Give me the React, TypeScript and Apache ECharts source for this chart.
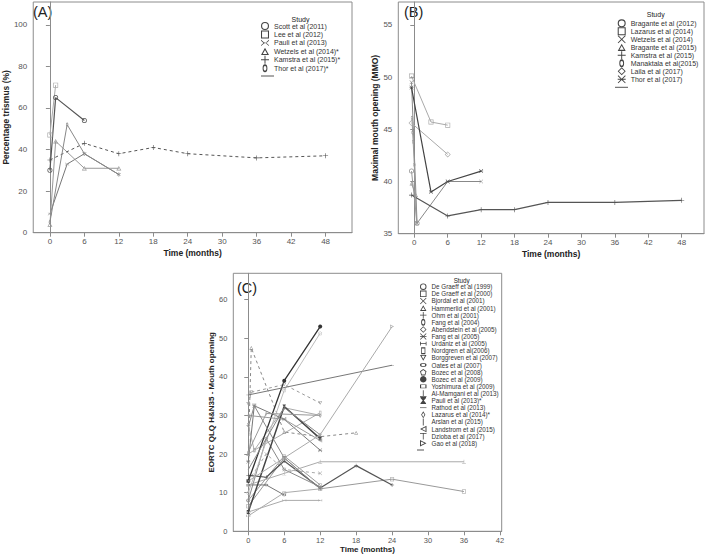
import { useEffect, useRef } from 'react';
import * as echarts from 'echarts';

// ---------- tick values ----------
const monthTicksAB = [0, 6, 12, 18, 24, 30, 36, 42, 48];
const monthTicksC = [0, 6, 12, 18, 24, 30, 36, 42];
const trismusTicks = [0, 20, 40, 60, 80, 100];
const mmoTicks = [35, 40, 45, 50, 55];
const eortcTicks = [0, 10, 20, 30, 40, 50, 60];

// ---------- Panel A: percentage trismus [month, %] ----------
const scott2011 = [[0, 30], [1, 65], [6, 54]];
const lee2012 = [[0, 47], [1, 71]];
const pauli2013A = [[0, 9], [3, 33], [6, 38], [12, 28]];
const wetzels2014A = [[0, 4], [1, 44], [6, 31], [12, 31]];
const kamstra2015A = [[0, 35], [6, 43], [12, 38], [18, 41], [24, 38], [36, 36], [48, 37]];
const thor2017A = [[0, 5], [3, 52], [6, 38], [12, 28]];

// ---------- Panel B: maximal mouth opening [month, mm] ----------
const bragante2012 = [[-0.5, 41], [0.5, 36]];
const lazarus2014B = [[-0.5, 50.1], [3, 45.7], [6, 45.4]];
const wetzels2014B = [[-0.5, 49.5], [0.5, 36], [6, 40], [12, 40]];
const bragante2015 = [[-0.5, 39.8], [0.3, 38.7]];
const kamstra2015B = [[-0.5, 38.7], [6, 36.7], [12, 37.3], [18, 37.3], [24, 38], [36, 38], [48, 38.2]];
const manaktala2015 = [[-0.4, 46.1], [-0.3, 44.7], [-0.2, 43.8], [0, 41.6], [0.4, 36]];
const laila2017 = [[-0.5, 45.6], [6, 42.6]];
const thor2017B = [[-0.5, 49], [3, 39], [6, 40], [12, 41]];

// ---------- Panel C: EORTC QLQ H&N35 mouth opening [month, score] ----------
const deGraeff1999 = [[0, 8], [6, 19.5], [12, 12]];
const deGraeff2000 = [[0, 6.5], [6, 19], [12, 11], [24, 13.5], [36, 10.3]];
const bjordal2001 = [[0, 13], [3, 20], [6, 16], [12, 15]];
const hammerlid2001 = [[0, 20], [0.5, 47.5], [6, 25.7], [12, 24.5], [18, 25.5]];
const ohm2001 = [[0, 14.5], [3, 14], [6, 18.2], [12, 11.2], [18, 17], [24, 12]];
const fang2004 = [[0, 20], [1, 21], [6, 32], [12, 30]];
const abendstein2005 = [[0, 8], [3, 24], [6, 16], [12, 11.5]];
const fang2005 = [[0, 18], [1, 32.5], [6, 29], [12, 21]];
const urdaniz2005 = [[0, 5], [6, 8], [12, 8]];
const nordgren2006 = [[0, 27.5], [1, 21], [12, 30.7]];
const borggreven2007 = [[0, 33], [0.5, 36], [6, 38], [12, 33.2]];
const oates2007 = [[0, 12], [3, 12], [6, 9.4]];
const bozec2008 = [[0, 10], [6, 36.5], [12, 51.3]];
const bozec2009 = [[0, 13], [6, 39], [12, 53]];
const yoshimura2009 = [[0, 4], [6, 10], [12, 11]];
const alMamgani2013 = [[0, 12], [6, 15], [12, 18], [36, 18]];
const pauli2013C = [[0, 5], [6, 32.3], [12, 24]];
const rathod2013 = [[0, 35.3], [24, 43]];
const lazarus2014C = [[0, 20.5], [3, 30.5], [12, 30]];
const arslan2015 = [[0, 16], [6, 32], [12, 25]];
const landstrom2015 = [[0, 30], [6, 29], [12, 23.5]];
const dzioba2017 = [[0, 27], [1, 32.5], [6, 19], [12, 11]];
const gao2018 = [[0, 13], [12, 25], [24, 53]];

// ---------- symbol shapes ----------
const ring = (pts: number[][], k: number): string => {
  const cx = pts.reduce((s, p) => s + p[0], 0) / pts.length;
  const cy = pts.reduce((s, p) => s + p[1], 0) / pts.length;
  const outer = 'M' + pts.map((p) => `${p[0]},${p[1]}`).join('L') + 'Z';
  const inner =
    'M' +
    pts
      .slice()
      .reverse()
      .map((p) => `${(cx + (p[0] - cx) * k).toFixed(2)},${(cy + (p[1] - cy) * k).toFixed(2)}`)
      .join('L') +
    'Z';
  return 'path://' + outer + ' ' + inner;
};
const ellRing = (rx: number, ry: number, k: number): string => {
  const irx = rx * k;
  const iry = ry * k;
  return `path://M${rx},0A${rx},${ry},0,1,1,${rx},${2 * ry}A${rx},${ry},0,1,1,${rx},0Z M${rx},${ry - iry}A${irx},${iry},0,1,0,${rx},${ry + iry}A${irx},${iry},0,1,0,${rx},${ry - iry}Z`;
};
const XM = 'M0,0.8L0.8,0L5,4.2L9.2,0L10,0.8L5.8,5L10,9.2L9.2,10L5,5.8L0.8,10L0,9.2L4.2,5Z';
const SYM: Record<string, string> = {
  circle: ellRing(5, 5, 0.72),
  square: ring([[0, 0], [10, 0], [10, 10], [0, 10]], 0.74),
  triUp: ring([[5, 0], [10, 9], [0, 9]], 0.55),
  triDown: ring([[0, 0], [10, 0], [5, 9]], 0.55),
  triLeft: ring([[0, 4.5], [9, 0], [9, 9]], 0.55),
  triRight: ring([[9, 4.5], [0, 9], [0, 0]], 0.55),
  diamond: ring([[5, 0], [10, 5], [5, 10], [0, 5]], 0.7),
  tallDiamond: ring([[3, 0], [6, 5], [3, 10], [0, 5]], 0.6),
  tallEll: ellRing(3, 5, 0.6),
  wideEll: ellRing(5, 3, 0.6),
  tallRect: ring([[0, 0], [6, 0], [6, 10], [0, 10]], 0.65),
  wideRect: ring([[0, 0], [10, 0], [10, 6], [0, 6]], 0.65),
  pentagon: ring([[5, 0], [10, 3.8], [8.1, 10], [1.9, 10], [0, 3.8]], 0.7),
  plus: 'path://M4.4,0H5.6V4.4H10V5.6H5.6V10H4.4V5.6H0V4.4H4.4Z',
  xmark: 'path://' + XM,
  bowtie: 'path://M0,1L4.6,5L0,9V7.8L3.2,5L0,2.2Z M10,1L5.4,5L10,9V7.8L6.8,5L10,2.2Z M3,4.5H7V5.5H3Z',
  asterisk: 'path://M0,4.4H10V5.6H0Z ' + XM,
  ibeam: 'path://M0,2H1.2V4.4H8.8V2H10V8H8.8V5.6H1.2V8H0Z',
  hourglass: 'path://M1,0H9V1.2L5.8,5L9,8.8V10H1V8.8L4.2,5L1,1.2Z',
  vbar: 'path://M4.4,0H5.6V10H4.4Z',
  tee: 'path://M0,0H10V1.2H5.6V10H4.4V1.2H0Z',
  upTee: 'path://M4.4,0H5.6V8.8H10V10H0V8.8H4.4Z',
  dash: 'path://M0,4.5H10V5.5H0Z',
  dot: 'circle',
};

type Study = { name: string; data: number[][]; sym: string; color: string; dash?: boolean; lw?: number; size?: number };

const studiesA: Study[] = [
  { name: 'Scott et al (2011)', data: scott2011, sym: 'circle', color: '#555', lw: 1.2 },
  { name: 'Lee et al (2012)', data: lee2012, sym: 'square', color: '#aaa' },
  { name: 'Pauli et al (2013)', data: pauli2013A, sym: 'bowtie', color: '#777', size: 4 },
  { name: 'Wetzels et al (2014)*', data: wetzels2014A, sym: 'triUp', color: '#999' },
  { name: 'Kamstra et al (2015)*', data: kamstra2015A, sym: 'plus', color: '#555', dash: true },
  { name: 'Thor et al (2017)*', data: thor2017A, sym: 'tallEll', color: '#888', size: 4 },
];
const studiesB: Study[] = [
  { name: 'Bragante et al (2012)', data: bragante2012, sym: 'circle', color: '#999' },
  { name: 'Lazarus et al (2014)', data: lazarus2014B, sym: 'square', color: '#aaa' },
  { name: 'Wetzels et al (2014)', data: wetzels2014B, sym: 'xmark', color: '#888', size: 4 },
  { name: 'Bragante et al (2015)', data: bragante2015, sym: 'triUp', color: '#999', size: 4 },
  { name: 'Kamstra et al (2015)', data: kamstra2015B, sym: 'plus', color: '#555', lw: 1.2 },
  { name: 'Manaktala et al(2015)', data: manaktala2015, sym: 'tallEll', color: '#999', size: 4 },
  { name: 'Laila et al (2017)', data: laila2017, sym: 'diamond', color: '#aaa', size: 6 },
  { name: 'Thor et al (2017)', data: thor2017B, sym: 'asterisk', color: '#444', lw: 1.2, size: 4 },
];
const studiesC: Study[] = [
  { name: 'De Graeff et al (1999)', data: deGraeff1999, sym: 'circle', color: '#999' },
  { name: 'De Graeff et al (2000)', data: deGraeff2000, sym: 'square', color: '#999' },
  { name: 'Bjordal et al (2001)', data: bjordal2001, sym: 'xmark', color: '#aaa', dash: true },
  { name: 'Hammerlid et al (2001)', data: hammerlid2001, sym: 'triUp', color: '#888', dash: true },
  { name: 'Ohm et al (2001)', data: ohm2001, sym: 'plus', color: '#555', lw: 1.2 },
  { name: 'Fang et al (2004)', data: fang2004, sym: 'tallEll', color: '#aaa' },
  { name: 'Abendstein et al (2005)', data: abendstein2005, sym: 'diamond', color: '#888' },
  { name: 'Fang et al (2005)', data: fang2005, sym: 'asterisk', color: '#777' },
  { name: 'Urdaniz et al (2005)', data: urdaniz2005, sym: 'ibeam', color: '#aaa' },
  { name: 'Nordgren et al(2006)', data: nordgren2006, sym: 'tallRect', color: '#aaa' },
  { name: 'Borggreven et al (2007)', data: borggreven2007, sym: 'triDown', color: '#999', dash: true },
  { name: 'Oates et al (2007)', data: oates2007, sym: 'wideEll', color: '#777' },
  { name: 'Bozec et al (2008)', data: bozec2008, sym: 'pentagon', color: '#bbb' },
  { name: 'Bozec et al (2009)', data: bozec2009, sym: 'dot', color: '#333', lw: 1.3 },
  { name: 'Yoshimura et al (2009)', data: yoshimura2009, sym: 'wideRect', color: '#aaa' },
  { name: 'Al-Mamgani et al (2013)', data: alMamgani2013, sym: 'upTee', color: '#aaa' },
  { name: 'Pauli et al (2013)*', data: pauli2013C, sym: 'hourglass', color: '#444', lw: 1.5 },
  { name: 'Rathod et al (2013)', data: rathod2013, sym: 'dash', color: '#777' },
  { name: 'Lazarus et al (2014)*', data: lazarus2014C, sym: 'tallDiamond', color: '#999' },
  { name: 'Arslan et al (2015)', data: arslan2015, sym: 'vbar', color: '#888' },
  { name: 'Landstrom et al (2015)', data: landstrom2015, sym: 'triLeft', color: '#999' },
  { name: 'Dzioba et al (2017)', data: dzioba2017, sym: 'tee', color: '#888' },
  { name: 'Gao et al (2018)', data: gao2018, sym: 'triRight', color: '#aaa' },
];

const FONT = '"Liberation Sans", Arial, sans-serif';
const FRAME = '#8c8c8c';

const mkSeries = (list: Study[], idx: number, defSize: number) =>
  list.map((s) => ({
    type: 'line',
    name: s.name,
    data: s.data,
    xAxisIndex: idx,
    yAxisIndex: idx,
    symbol: SYM[s.sym],
    symbolSize: s.size ?? defSize,
    symbolKeepAspect: true,
    showSymbol: true,
    lineStyle: { color: s.color, width: s.lw ?? 1, type: s.dash ? [3, 3] : 'solid' },
    itemStyle: { color: s.color },
    emphasis: { disabled: true },
    silent: true,
  }));

const mkLegend = (list: Study[], left: number, top: number, iw: number, ih: number, gap: number, fs: number) => ({
  orient: 'vertical',
  left,
  top,
  padding: 0,
  itemWidth: iw,
  itemHeight: ih,
  itemGap: gap,
  selectedMode: false,
  textStyle: { fontSize: fs, lineHeight: ih, color: '#333', fontFamily: FONT },
  data: list.map((s) => ({ name: s.name, icon: SYM[s.sym], itemStyle: { color: '#444' } })),
});

const xAxisCfg = (gi: number, min: number, max: number, ticks: number[], fs: number, nameFs: number, nameGap: number) => ({
  gridIndex: gi,
  type: 'value',
  min,
  max,
  name: 'Time (months)',
  nameLocation: 'middle',
  nameGap,
  nameTextStyle: { fontWeight: 'bold', fontSize: nameFs, color: '#222', fontFamily: FONT },
  axisLine: { show: true, lineStyle: { color: FRAME } },
  axisTick: { show: true, length: 4, customValues: ticks, lineStyle: { color: FRAME } },
  axisLabel: { customValues: ticks, color: '#555', fontSize: fs, margin: 5, fontFamily: FONT },
  splitLine: { show: false },
});
const yAxisCfg = (gi: number, min: number, max: number, ticks: number[], name: string, fs: number, nameFs: number, nameGap: number) => ({
  gridIndex: gi,
  type: 'value',
  min,
  max,
  name,
  nameLocation: 'middle',
  nameGap,
  nameTextStyle: { fontWeight: 'bold', fontSize: nameFs, color: '#222', fontFamily: FONT },
  axisLine: { show: true, lineStyle: { color: FRAME } },
  axisTick: { show: true, length: 4, customValues: ticks, lineStyle: { color: FRAME } },
  axisLabel: { customValues: ticks, color: '#555', fontSize: fs, margin: 6, fontFamily: FONT },
  splitLine: { show: false },
});

export default function App() {
  const ref = useRef<HTMLDivElement>(null);
  useEffect(() => {
    if (!ref.current) return;
    const chart = echarts.init(ref.current, undefined, { renderer: 'svg' });
    const gridStyle = { show: true, borderColor: FRAME, borderWidth: 1, backgroundColor: 'transparent' };
    const txt = (x: number, y: number, text: string, fs: number, align: string) => ({
      type: 'text',
      x,
      y,
      silent: true,
      style: { text, fontSize: fs, fill: '#222', fontFamily: FONT, align, verticalAlign: 'middle' },
    });
    const ln = (x1: number, x2: number, y: number) => ({
      type: 'line',
      silent: true,
      shape: { x1, y1: y, x2, y2: y },
      style: { stroke: '#555', lineWidth: 1 },
    });
    chart.setOption({
      animation: false,
      textStyle: { fontFamily: FONT },
      grid: [
        { left: 31, top: 2, width: 321, height: 230.7, ...gridStyle },
        { left: 398.3, top: 2, width: 305.7, height: 231.7, ...gridStyle },
        { left: 233.3, top: 273.3, width: 268.4, height: 258, ...gridStyle },
      ],
      xAxis: [
        xAxisCfg(0, -2.9, 52.6, monthTicksAB, 8, 8.5, 16),
        xAxisCfg(1, -2.87, 52.0, monthTicksAB, 8, 8.5, 16),
        xAxisCfg(2, -2.5, 42.3, monthTicksC, 7.5, 8, 12),
      ],
      yAxis: [
        yAxisCfg(0, 0, 111, trismusTicks, 'Percentage trismus (%)', 8, 8.5, 20),
        yAxisCfg(1, 35, 57.2, mmoTicks, 'Maximal mouth opening (MMO)', 8, 8.5, 18),
        yAxisCfg(2, 0, 66.8, eortcTicks, 'EORTC QLQ H&N35 - Mouth opening', 7.5, 8, 12),
      ],
      legend: [
        mkLegend(studiesA, 261, 22, 8, 8, 0.46, 7),
        mkLegend(studiesB, 617.7, 19.3, 8, 8, 0, 7),
        mkLegend(studiesC, 420, 283.2, 6.5, 7, 0.12, 6.3),
      ],
      graphic: [
        txt(33, 12, '(A)', 14.5, 'left'),
        txt(404, 12, '(B)', 14.5, 'left'),
        txt(237, 287.5, '(C)', 14.5, 'left'),
        txt(300.5, 19, 'Study', 7, 'center'),
        txt(655.7, 14.3, 'Study', 7, 'center'),
        txt(461.7, 280, 'Study', 6.3, 'center'),
        ln(261, 274, 76),
        ln(615, 628, 87.3),
        ln(417, 424, 450),
      ],
      series: [
        ...mkSeries(studiesA, 0, 5),
        ...mkSeries(studiesB, 1, 5),
        ...mkSeries(studiesC, 2, 4),
      ],
    });
    return () => chart.dispose();
  }, []);
  return <div ref={ref} style={{ position: 'absolute', left: 0, top: 0, width: 709, height: 555 }} />;
}
